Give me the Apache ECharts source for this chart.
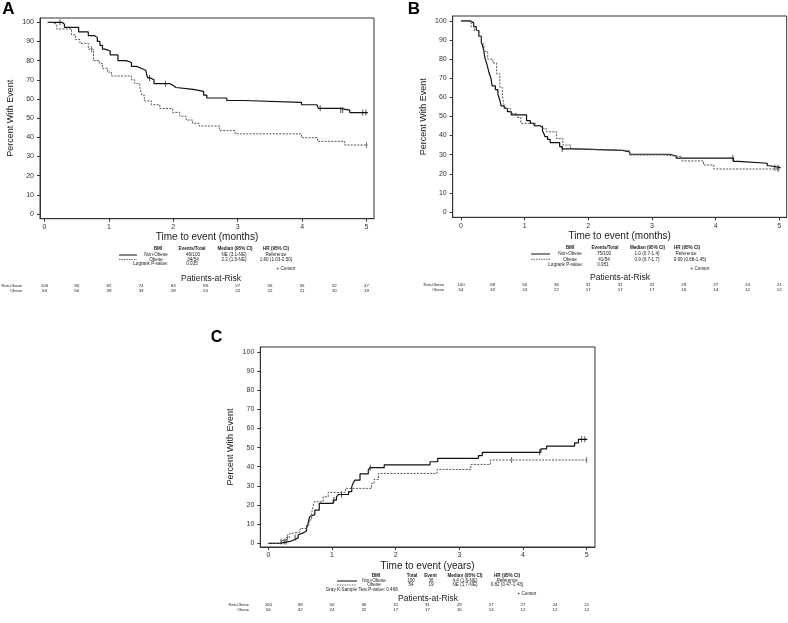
<!DOCTYPE html>
<html><head><meta charset="utf-8">
<script src="https://cdn.jsdelivr.net/npm/echarts@6/dist/echarts.min.js"></script>
<style>html,body{margin:0;padding:0;background:#fff}#c{width:788px;height:623px}</style>
</head><body><div id="c"></div>
<script>
// ---- tick labels ----
const xTicks = [0, 1, 2, 3, 4, 5];
const yTicks = [0, 10, 20, 30, 40, 50, 60, 70, 80, 90, 100];
const riskTimes = [0, 0.5, 1, 1.5, 2, 2.5, 3, 3.5, 4, 4.5, 5];

// ---- Panel A (months) ----
const aNonObese = [[0.05,100],[0.27,99],[0.31,97.4],[0.53,95],[0.68,93],[0.78,92],[0.82,90],[0.86,88],[0.9,86],[0.94,85],[1.02,83],[1.14,80],[1.27,79],[1.35,77],[1.43,76],[1.5,75],[1.57,74],[1.6,71],[1.64,70],[1.7,68],[1.95,67],[2.0,66],[2.04,65],[2.31,64],[2.47,62],[2.52,60.5],[2.83,59.2],[3.09,58.2],[3.99,57],[4.23,56],[4.25,55.1],[4.59,54.2],[4.74,52.9],[5.02,52.9]];
const aNonObeseCensor = [[0.24,100],[1.63,71],[1.88,68],[4.28,55.1],[4.6,54.2],[4.63,54.2],[4.94,52.9],[4.99,52.9]];
const aObese = [[0.05,100],[0.11,99],[0.19,96.5],[0.42,93.5],[0.48,91],[0.55,89],[0.68,86],[0.76,80],[0.85,78.6],[0.9,76],[0.98,74],[1.04,72],[1.35,70],[1.4,68],[1.48,66],[1.51,62],[1.55,59],[1.66,57],[1.79,55],[1.99,53],[2.1,51],[2.2,49],[2.3,47.3],[2.4,45.9],[2.72,43.5],[2.96,41.8],[3.99,39.8],[4.24,37.9],[4.66,36],[5.02,36]];
const aObeseCensor = [[0.73,86],[5.0,36]];
const aRiskNonObese = ['100','94','82','74','63','59','27','56','55','52','47'];
const aRiskObese = ['54','50','39','33','28','24','22','22','21','20','19'];

// ---- Panel B (months) ----
const bNonObese = [[0,100],[0.15,99],[0.2,97],[0.24,95],[0.28,92],[0.32,89],[0.35,85.7],[0.38,80],[0.41,77],[0.44,73],[0.47,70],[0.49,66],[0.54,64],[0.58,61.6],[0.61,58.6],[0.63,55.5],[0.68,54.3],[0.73,52.5],[0.79,50.8],[1.03,47.8],[1.09,46.4],[1.15,45.2],[1.24,44.2],[1.28,42.6],[1.3,41.2],[1.32,39.4],[1.36,38],[1.4,36.3],[1.55,34.2],[1.59,33],[1.8,32.2],[2.54,31.4],[2.65,30.2],[3.28,29.3],[3.38,28.2],[4.28,26.5],[4.36,25.5],[4.81,24.2],[4.85,23.2],[5.02,23.2]];
const bNonObeseCensor = [[1.59,33],[4.27,28.2],[4.93,23.2],[4.98,23.2]];
const bObese = [[0,100],[0.1,99],[0.16,97],[0.21,95],[0.28,92],[0.32,88],[0.36,84],[0.42,80],[0.5,78],[0.56,72.3],[0.61,65.3],[0.65,61.2],[0.67,56.8],[0.7,54.2],[0.78,51.6],[0.88,49.5],[0.94,46.4],[1.17,45.2],[1.28,43.8],[1.34,42],[1.5,38.5],[1.6,35],[1.72,33],[1.8,32.1],[2.65,29.8],[3.18,29],[3.47,26.7],[3.81,24.6],[3.97,22.5],[5.01,22.5]];
const bObeseCensor = [[4.98,22.5]];
const bRiskNonObese = ['100','68','50','36','31','31','31','29','27','24','21'];
const bRiskObese = ['54','42','24','22','17','17','17','16','14','12','12'];

// ---- Panel C (years, cumulative incidence) ----
const cNonObese = [[0,0],[0.18,1],[0.34,2],[0.42,3],[0.47,4.5],[0.5,5.5],[0.55,6.5],[0.6,8],[0.62,9.5],[0.63,11.5],[0.65,14],[0.67,15],[0.73,17.4],[0.8,20.9],[1.02,22.6],[1.07,24.3],[1.1,25.5],[1.26,27],[1.31,29.6],[1.33,31.3],[1.36,33],[1.44,36.3],[1.57,38.3],[1.6,39.5],[1.82,41],[2.54,42.6],[2.66,44.4],[3.3,45.8],[3.36,47.5],[4.28,49.3],[4.37,50.8],[4.81,52.5],[4.87,54.3],[5.01,54.3]];
const cNonObeseCensor = [[0.2,1],[0.25,1],[0.28,1],[0.42,3],[1.03,22.6],[1.15,25.5],[1.6,39.5],[4.26,47.5],[4.92,54.3],[4.97,54.3]];
const cObese = [[0,0],[0.2,1.5],[0.28,3],[0.33,5],[0.36,6],[0.5,7.8],[0.6,9.6],[0.64,12.2],[0.68,15.6],[0.7,19.1],[0.72,21.7],[0.86,24.3],[0.94,26.6],[1.21,28.7],[1.62,31.3],[1.66,33.4],[1.73,36.5],[2.65,38.6],[3.18,41.2],[3.49,43.5],[5.01,43.5]];
const cObeseCensor = [[0.3,3],[3.82,43.5],[5.0,43.5]];
const cRiskNonObese = ['100','68','50','36','31','31','29','27','27','24','21'];
const cRiskObese = ['54','42','24','22','17','17','16','14','12','12','12'];

const FONT = 'Liberation Sans, Arial, sans-serif';
const INK = '#1a1a1a';
const AX = '#333';

const grids = [
  {left: 40, top: 18, width: 334, height: 200.7},
  {left: 452.7, top: 16, width: 334, height: 201.3},
  {left: 260.3, top: 347, width: 334.7, height: 200}
];
const xr = [[-0.07, 5.116], [-0.13, 5.116], [-0.126, 5.13]];
const yr = [[-2.45, 102.24], [-2.8, 102.6], [-1.9, 102.5]];
const xNames = ['Time to event (months)', 'Time to event (months)', 'Time to event (years)'];

const chart = echarts.init(document.getElementById('c'), null, {renderer: 'canvas'});

function xAxis(i) {
  return {
    type: 'value', gridIndex: i, min: xr[i][0], max: xr[i][1],
    axisLine: {show: true, onZero: false, lineStyle: {color: AX, width: 1}},
    axisTick: {show: true, length: 3, customValues: xTicks, lineStyle: {color: AX}},
    axisLabel: {customValues: xTicks, fontSize: 7, color: '#333', margin: 5, fontFamily: FONT},
    splitLine: {show: false},
    name: xNames[i], nameLocation: 'middle', nameGap: 14,
    nameTextStyle: {fontSize: 10, color: INK, fontFamily: FONT}
  };
}
function yAxis(i) {
  return {
    type: 'value', gridIndex: i, min: yr[i][0], max: yr[i][1],
    axisLine: {show: true, onZero: false, lineStyle: {color: AX, width: 1}},
    axisTick: {show: true, length: 3, customValues: yTicks, lineStyle: {color: AX}},
    axisLabel: {customValues: yTicks, fontSize: 7, color: '#333', margin: 6, fontFamily: FONT},
    splitLine: {show: false},
    name: 'Percent With Event', nameLocation: 'middle', nameGap: [25, 25, 25][i],
    nameTextStyle: {fontSize: 9, color: INK, fontFamily: FONT}
  };
}
function stepLine(i, data, dashed) {
  return {
    type: 'line', xAxisIndex: i, yAxisIndex: i, step: 'end', data: data,
    showSymbol: false, symbol: 'none', animation: false, silent: true,
    lineStyle: dashed ? {color: '#555', width: 1, type: [2, 1.3]} : {color: '#111', width: 1.2, type: 'solid'}
  };
}
function censor(i, data, dashed) {
  return {
    type: 'scatter', xAxisIndex: i, yAxisIndex: i, data: data,
    symbol: 'rect', symbolSize: [0.9, 6], animation: false, silent: true,
    itemStyle: {color: dashed ? '#444' : '#111'}
  };
}

chart.setOption({
  animation: false,
  backgroundColor: '#fff',
  grid: grids.map(g => Object.assign({show: true, borderColor: AX, borderWidth: 1, backgroundColor: 'transparent'}, g)),
  xAxis: [0, 1, 2].map(xAxis),
  yAxis: [0, 1, 2].map(yAxis),
  series: [
    stepLine(0, aNonObese, false), stepLine(0, aObese, true), censor(0, aNonObeseCensor, false), censor(0, aObeseCensor, true),
    stepLine(1, bNonObese, false), stepLine(1, bObese, true), censor(1, bNonObeseCensor, false), censor(1, bObeseCensor, true),
    stepLine(2, cNonObese, false), stepLine(2, cObese, true), censor(2, cNonObeseCensor, false), censor(2, cObeseCensor, true)
  ]
});

// ---- text annotations ----
const G = [];
function t(x, y, s, o) {
  o = o || {};
  G.push({type: 'text', x: x, y: y, silent: true, style: {
    text: s, fill: o.fill || INK, fontSize: o.size || 4.6, fontWeight: o.bold ? 'bold' : 'normal',
    fontStyle: o.italic ? 'italic' : 'normal',
    fontFamily: FONT, textAlign: o.align || 'center', textVerticalAlign: 'middle'}});
}
function key(x1, x2, y, dashed) {
  G.push({type: 'line', silent: true, shape: {x1: x1, y1: y, x2: x2, y2: y},
    style: {stroke: dashed ? '#444' : '#111', lineWidth: dashed ? 0.8 : 1, lineDash: dashed ? [1.5, 1] : null}});
}

// Panel letters
t(8.5, 9.5, 'A', {size: 17, bold: true, fill: '#000'});
t(414, 9.5, 'B', {size: 17, bold: true, fill: '#000'});
t(216.5, 338, 'C', {size: 16, bold: true, fill: '#000'});

// Panel A table
t(158, 249, 'BMI', {bold: true}); t(192, 249, 'Events/Total', {bold: true});
t(235, 249, 'Median (95% CI)', {bold: true}); t(276, 249, 'HR (95% CI)', {bold: true});
key(119, 137, 255, false); key(119, 137, 259.5, true);
t(156, 255, 'Non-Obese'); t(193, 255, '46/100'); t(234, 255, 'NE (3.1-NE)'); t(276, 255, 'Reference');
t(156, 259.5, 'Obese'); t(193, 259.5, '34/54'); t(234, 259.5, '2.2 (1.5-NE)'); t(276, 259.5, '1.60 (1.03-2.50)');
t(168, 264, 'Logrank P-value:', {align: 'right'}); t(192, 264, '0.035');
t(286, 269, '+ Censor');
t(211, 278.5, 'Patients-at-Risk', {size: 8.5});

// Panel B table
t(570, 247.5, 'BMI', {bold: true}); t(605, 247.5, 'Events/Total', {bold: true});
t(647.5, 247.5, 'Median (95% CI)', {bold: true}); t(687, 247.5, 'HR (95% CI)', {bold: true});
key(531, 550, 254, false); key(531, 550, 259.3, true);
t(570, 254, 'Non-Obese'); t(604, 254, '75/100'); t(647, 254, '1.0 (0.7-1.4)'); t(686, 254, 'Reference');
t(570, 259.3, 'Obese'); t(604, 259.3, '41/54'); t(647, 259.3, '0.9 (0.7-1.7)'); t(690, 259.3, '0.99 (0.68-1.45)');
t(583, 264.3, 'Logrank P-value:', {align: 'right'}); t(603, 264.3, '0.951');
t(700, 268.5, '+ Censor');
t(620, 278, 'Patients-at-Risk', {size: 8.5});

// Panel C table
t(376, 576, 'BMI', {bold: true}); t(412, 576, 'Total', {bold: true}); t(430.5, 576, 'Event', {bold: true});
t(465, 576, 'Median (95% CI)', {bold: true}); t(507, 576, 'HR (95% CI)', {bold: true});
key(337, 357, 581, false); key(337, 357, 585, true);
t(374, 581, 'Non-Obese'); t(411, 581, '100'); t(431, 581, '36'); t(465, 581, '4.4 (1.6-NE)'); t(507, 581, 'Reference', {italic: true});
t(374, 585, 'Obese'); t(411, 585, '54'); t(431, 585, '19'); t(465, 585, 'NE (1.7-NE)'); t(507, 585, '0.82 (0.47-1.43)');
t(385, 589.5, 'Gray K-Sample Test P-value:', {align: 'right'}); t(392, 589.5, '0.468');
t(527, 594, '+ Censor');
t(428, 599, 'Patients-at-Risk', {size: 8.5});

// Patients-at-risk rows aligned to each panel's x axis
const risk = [
  {i: 0, lx: 22, y1: 285.7, y2: 290.4, a: aRiskNonObese, b: aRiskObese},
  {i: 1, lx: 444, y1: 284.7, y2: 290, a: bRiskNonObese, b: bRiskObese},
  {i: 2, lx: 249, y1: 605, y2: 610, a: cRiskNonObese, b: cRiskObese}
];
risk.forEach(r => {
  t(r.lx, r.y1, 'Non-Obese', {align: 'right', size: 4});
  t(r.lx, r.y2, 'Obese', {align: 'right', size: 4});
  riskTimes.forEach((tm, k) => {
    const px = chart.convertToPixel({xAxisIndex: r.i}, tm);
    t(px, r.y1, r.a[k], {size: 4.4});
    t(px, r.y2, r.b[k], {size: 4.4});
  });
});

chart.setOption({graphic: G});
</script>
</body></html>
